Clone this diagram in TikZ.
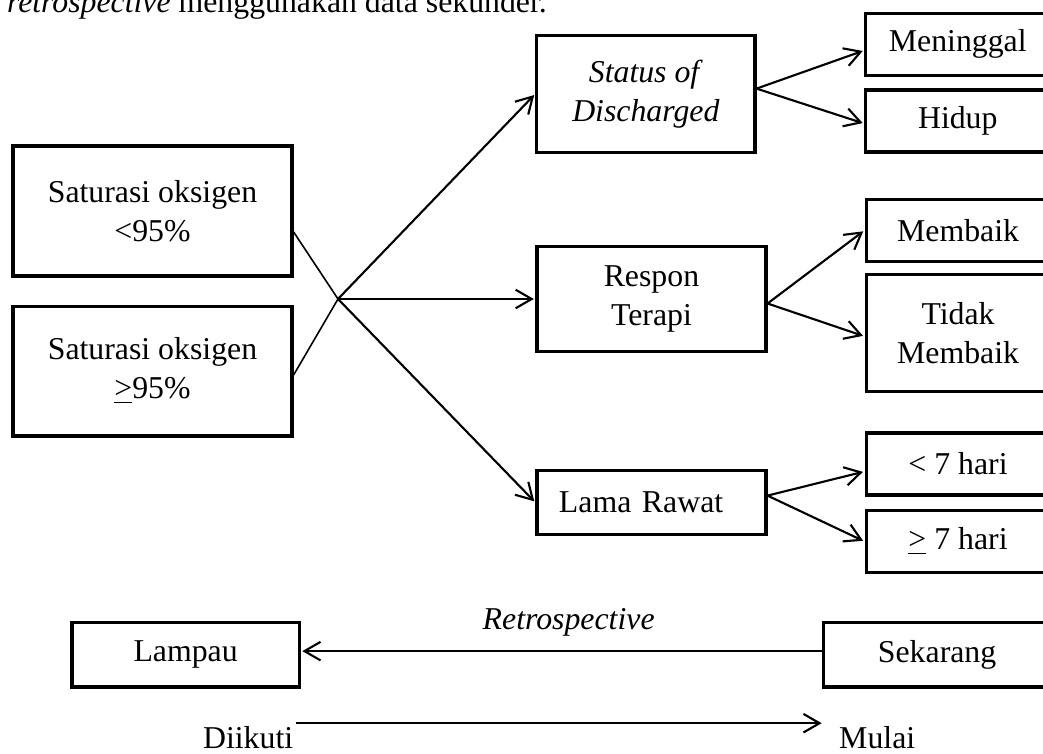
\documentclass[tikz,border=0pt]{standalone}
\usepackage{fontspec}
\setmainfont{Liberation Serif}
\usetikzlibrary{arrows.meta}

\begin{document}
\begin{tikzpicture}[-,>={Straight Barb[angle=60:7pt]},line width=0.8pt,
		x=0.3774pt,y=-0.3774pt,font=\fontsize{12}{14.7}\selectfont,
		box/.style={draw,line width=1.2pt,align=center,inner sep=2pt},
		kiri/.style={box,minimum width=105.3pt,minimum height=49pt},
		tengah/.style={box,minimum width=86.4pt},
		kanan/.style={box,minimum width=69.4pt,minimum height=23.4pt}]

		\useasboundingbox (0,0) rectangle (1043,754);
		\clip (0,0) rectangle (1043,754);

		\node[anchor=base west,inner sep=0pt] (judul) at (6,13) {\textit{retrospective} menggunakan data sekunder.};

		\node[kiri] (s1) at (152.5,211) {Saturasi oksigen\\<95\%};
		\node[kiri] (s2) [below of=s1, node distance=60.4pt] {Saturasi oksigen\\\underline{>}95\%};
		\coordinate (hub) at (338,299);

		\node[tengah,minimum height=39.6pt] (respon) [right of=hub, node distance=118.3pt] {Respon\\Terapi};
		\node[tengah,minimum width=82.3pt,minimum height=44.2pt] (status) [above of=respon, node distance=77.4pt, xshift=-2.1pt] {\textit{Status of}\\\textit{Discharged}};
		\node[tengah,minimum height=24.2pt,inner xsep=8.3pt,text width=69.8pt,align=left] (lama) [below of=respon, node distance=76.8pt] {Lama Rawat};

		\node[kanan] (hidup) [right of=status, node distance=117.7pt, yshift=-10.2pt] {Hidup};
		\node[kanan] (meninggal) [above of=hidup, node distance=28.9pt] {Meninggal};
		\node[kanan,minimum height=44.2pt] (tidak) [right of=respon, node distance=115.7pt, yshift=-12.8pt] {Tidak\\Membaik};
		\node[kanan] (membaik) [above of=tidak, node distance=38.7pt] {Membaik};
		\node[kanan] (kurang) [right of=lama, node distance=115.7pt, yshift=14.5pt] {< 7 hari};
		\node[kanan] (lebih) [below of=kurang, node distance=29.2pt] {\underline{>} 7 hari};

		\node[box,minimum width=85.7pt,minimum height=24.5pt] (lampau) [below of=s2, node distance=107pt, xshift=12.5pt] {Lampau};
		\node[box,minimum width=85.7pt,minimum height=24.5pt] (sekarang) [right of=lampau, node distance=283.6pt] {Sekarang};
		\node (diikuti) [below of=lampau, node distance=31.3pt, xshift=23.6pt] {Diikuti};
		\node (mulai) [right of=diikuti, node distance=237.4pt] {Mulai};

		\draw[line width=0.6pt] ([yshift=-7.9pt]s1.east) -- (hub) -- ([yshift=-1.5pt]s2.east);

		\path[->,shorten >=0.6pt]
		(hub) edge          		 node{}(status.west)
		(hub) edge          		 node{}(respon.west)
		(hub) edge          		 node{}(lama.west)
		([yshift=2pt]status.east) edge          node{}([yshift=-2.3pt]meninggal.west)
		([yshift=2pt]status.east) edge          node{}([yshift=-1pt]hidup.west)
		([yshift=-1.7pt]respon.east) edge       node{}(membaik.west)
		([yshift=-1.7pt]respon.east) edge       node{}([yshift=-1.3pt]tidak.west)
		([yshift=2.6pt]lama.east) edge          node{}([yshift=-2.8pt]kurang.west)
		([yshift=2.6pt]lama.east) edge          node{}(lebih.west)
		([yshift=1.3pt]sekarang.west) edge      node[pos=0.486,yshift=11pt]{\textit{Retrospective}}([yshift=1.3pt]lampau.east)
		([yshift=5.4pt,xshift=-2.5pt]diikuti.east) edge node{}([yshift=5.4pt,xshift=-2.3pt]mulai.west);
\end{tikzpicture}
\end{document}
